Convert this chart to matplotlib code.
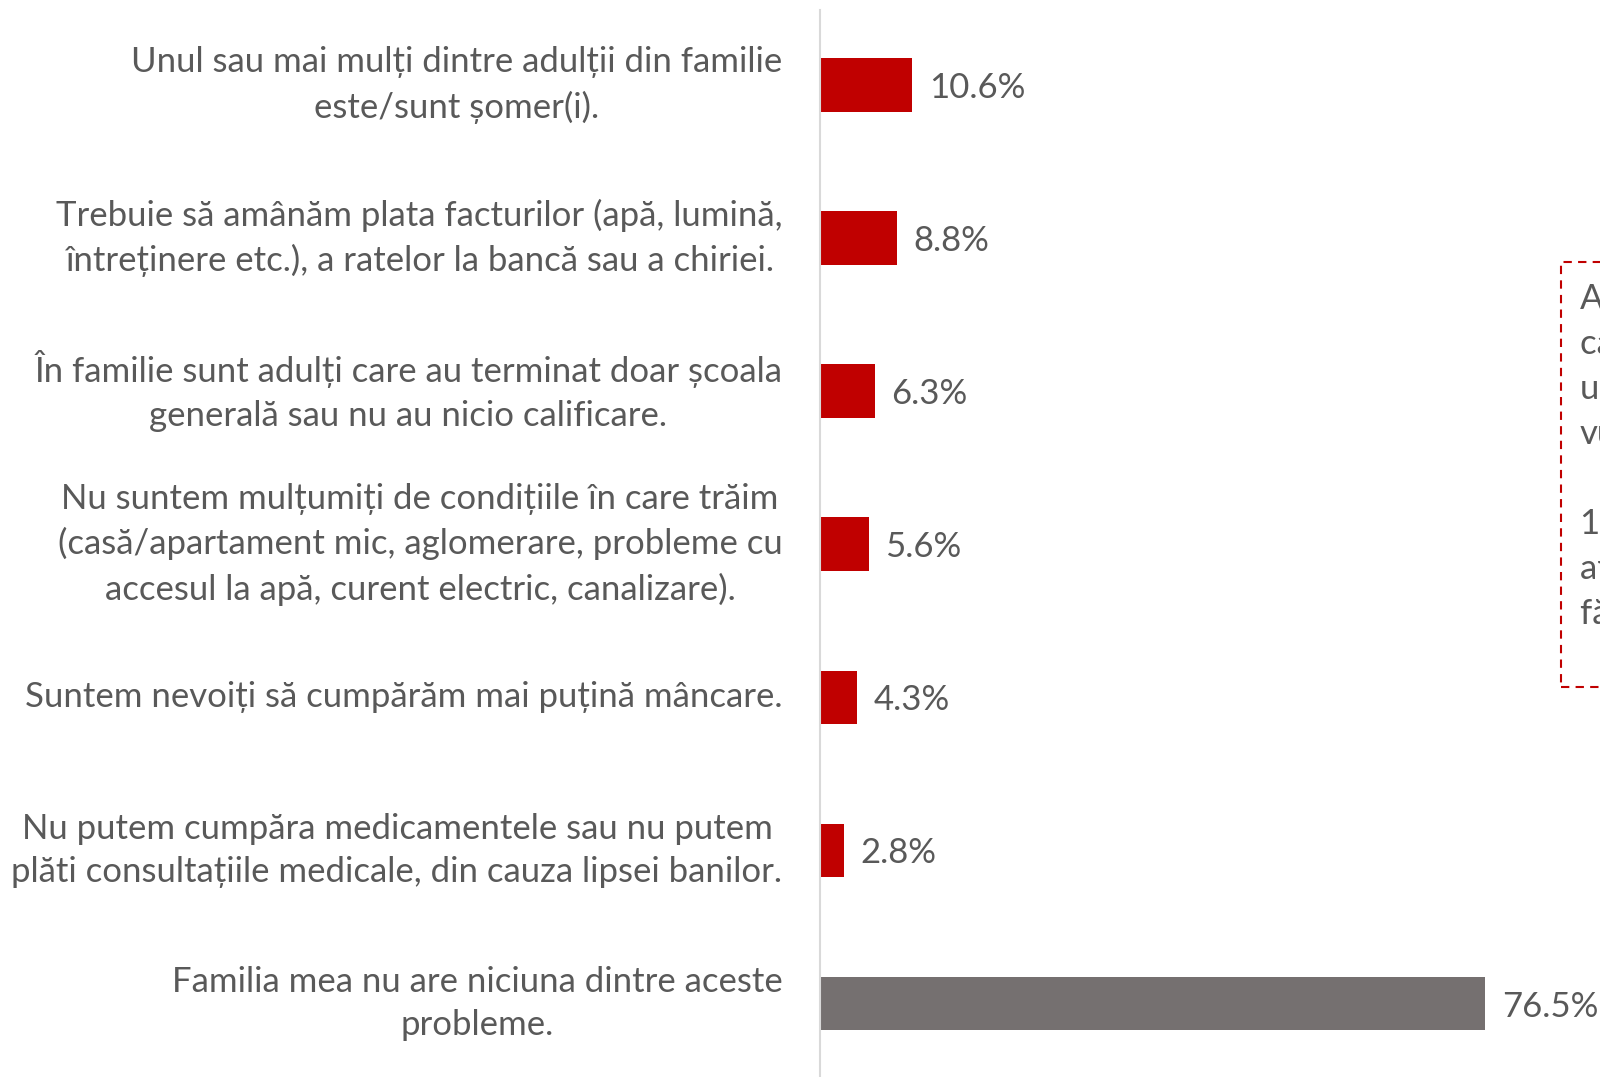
"""
    plot.py

    Probleme ale familiei - bare orizontale
"""

import matplotlib.pyplot as plt
from matplotlib.patches import Rectangle

categories = [
    "Unul sau mai mulți dintre adulții din familie\neste/sunt șomer(i).",
    "Trebuie să amânăm plata facturilor (apă, lumină,\nîntreținere etc.), a ratelor la bancă sau a chiriei.",
    "În familie sunt adulți care au terminat doar școala\ngenerală sau nu au nicio calificare.",
    "Nu suntem mulțumiți de condițiile în care trăim\n(casă/apartament mic, aglomerare, probleme cu\naccesul la apă, curent electric, canalizare).",
    "Suntem nevoiți să cumpărăm mai puțină mâncare.",
    "Nu putem cumpăra medicamentele sau nu putem\nplăti consultațiile medicale, din cauza lipsei banilor.",
    "Familia mea nu are niciuna dintre aceste\nprobleme.",
]
values = [10.6, 8.8, 6.3, 5.6, 4.3, 2.8, 76.5]
colors = ["#c00000"] * 6 + ["#757070"]

note_lines = [
    "Aproape un sfert dintre copii declară",
    "că familia lor se confruntă cu cel puțin",
    "una dintre aceste probleme de",
    "vulnerabilitate.",
    "",
    "1 din 10 copii trăiește într-o familie",
    "afectată de șomaj, iar unii rămân",
    "fără îngrijire medicală.",
]

plt.rcParams['font.family'] = ['Lato', 'DejaVu Sans']
TXT = "#595959"
FS = 25

fig = plt.figure(figsize=(16, 10.77), dpi=100)
ax = fig.add_axes([0.5125, 0.0, 0.4875, 0.9907])

pos = list(range(len(values)))
ax.barh(pos, values, height=0.35, color=colors)
for p, v in zip(pos, values):
    ax.text(v + 1.9, p, f"{v:.1f}%", va="center_baseline", ha="left",
            fontsize=FS, color=TXT)

ax.set_ylim(6.48, -0.49)
ax.set_xlim(0, 89.7)
ax.set_yticks(pos)
ax.set_yticklabels(categories, fontsize=FS, color=TXT, va="center",
                   multialignment="center", linespacing=1.45)
ax.tick_params(axis="y", length=0, pad=27)
ax.set_xticks([])
for s in ["top", "right", "bottom"]:
    ax.spines[s].set_visible(False)
ax.spines["left"].set_color("#d9d9d9")
ax.spines["left"].set_linewidth(1.5)

# caseta cu nota (taiata de marginea figurii)
fig.patches.append(Rectangle((1561 / 1600, 1 - 687 / 1077), 0.2, 425 / 1077,
                             transform=fig.transFigure, fill=False,
                             edgecolor="#c00000", linestyle=(0, (4, 3)),
                             linewidth=1.5))
fig.text(1580 / 1600, 1 - 283 / 1077, "\n".join(note_lines),
         fontsize=FS, color=TXT, ha="left", va="top", linespacing=1.5)

fig.savefig("out.png", dpi=100)
